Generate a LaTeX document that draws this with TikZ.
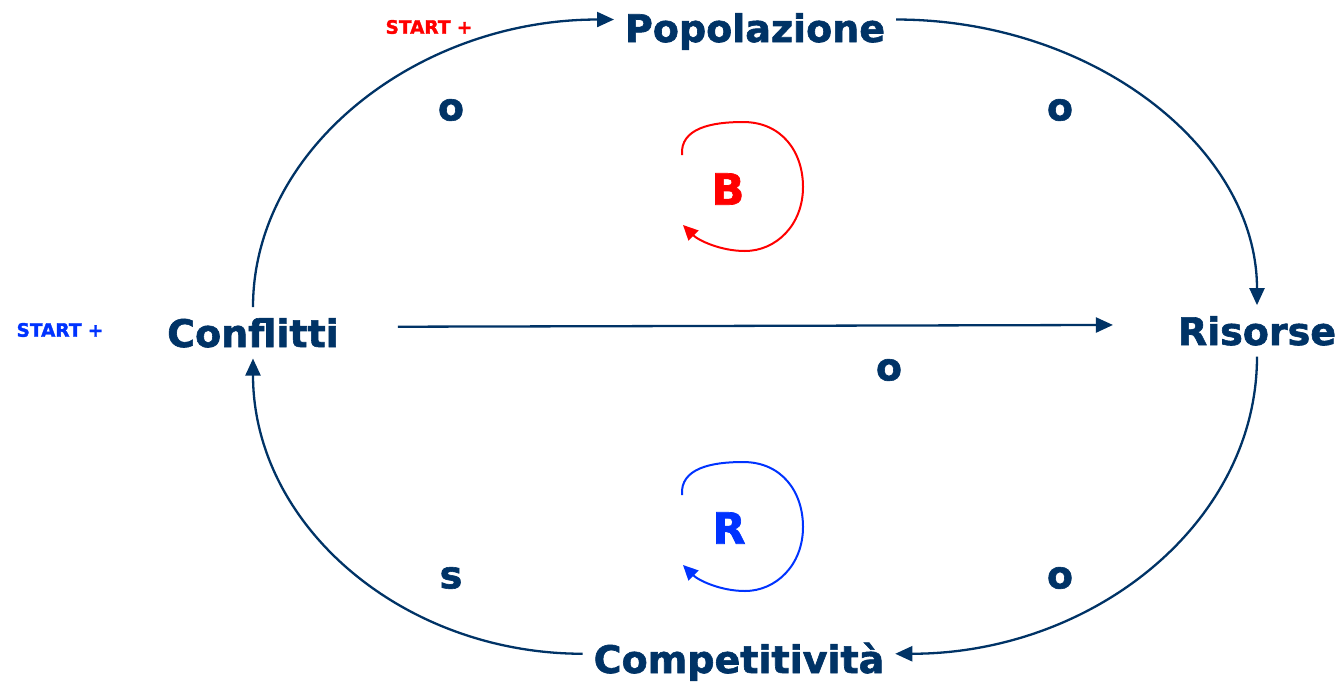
\documentclass[tikz,border=0pt]{standalone}
\usepackage{fontspec}
\setmainfont{DejaVu Sans}[BoldFeatures={FakeBold=1.6}]
\usetikzlibrary{positioning,arrows.meta}
\definecolor{navy}{RGB}{0,51,102}
\definecolor{loopred}{RGB}{255,0,0}
\definecolor{loopblue}{RGB}{0,51,255}
\tikzset{
  var/.style={font=\fontsize{38}{40}\selectfont\bfseries,text=navy,inner sep=0pt,outer sep=11pt},
  sign/.style={font=\fontsize{38}{40}\selectfont\bfseries,text=navy,inner sep=0pt},
  link/.style={draw=navy,line width=2.3pt,-{Triangle[length=17pt,width=15pt]}},
  startlbl/.style={font=\fontsize{18.5}{20}\selectfont\bfseries,inner sep=0pt},
  loopsym/.style={font=\fontsize{43}{45}\selectfont\bfseries,inner sep=0pt},
  looparc/.style={line width=2pt,-{Triangle[length=15pt,width=14pt]}}
}
\begin{document}
\begin{tikzpicture}[x=1pt,y=-1pt]
\useasboundingbox (0,0) rectangle (1341,681);
% variables
\node[var,anchor=base] (pop) at (755,42) {Popolazione};
\node[var,anchor=base] (conf) at (253,347) {Conflitti};
\node[var,anchor=base] (ris) at (1257,345) {Risorse};
\node[var,anchor=base] (comp) at (739,673) {Competitività};
% start markers
\node[startlbl,text=loopred] (st1) at (429,27) {START +};
\node[startlbl,text=loopblue] (st2) at (60,330) {START +};
% links
\draw[link] (conf.north) .. controls +(0,-159) and +(-196,0) .. ([yshift=12pt]pop.west);
\draw[link] ([yshift=12pt]pop.east) .. controls +(197,0) and +(0,-157) .. (ris.north);
\draw[link] (ris.south) .. controls +(0,167) and +(197,0) .. ([yshift=8pt]comp.east);
\draw[link] ([yshift=8pt]comp.west) .. controls +(-180,0) and +(0,167) .. (conf.south);
\draw[link,shorten <=48pt,shorten >=54pt] ([yshift=6pt]conf.east) -- ([yshift=6pt]ris.west);
% signs
\foreach \i/\x/\y/\s in {1/451/110/o,2/1060/110/o,3/889/370/o,4/1060/578/o,5/451/578/s} {
    \node[sign] (sg\i) at (\x,\y) {\s};
}
% loop symbols
\node[loopsym,text=loopred] (lpb) at (728,189) {B};
\node[loopsym,text=loopblue] (lpr) at (729,528) {R};
\foreach \c/\dy in {loopred/0,loopblue/340} {
    \draw[looparc,\c,yshift=-\dy pt] (682,155) .. controls (680,128) and (712,122) .. (743,122)
        .. controls (782,122) and (803,152) .. (803,187) .. controls (803,225) and (776,251) .. (745,251)
        .. controls (720,251) and (698,240) .. (683,225);
}
\end{tikzpicture}
\end{document}
